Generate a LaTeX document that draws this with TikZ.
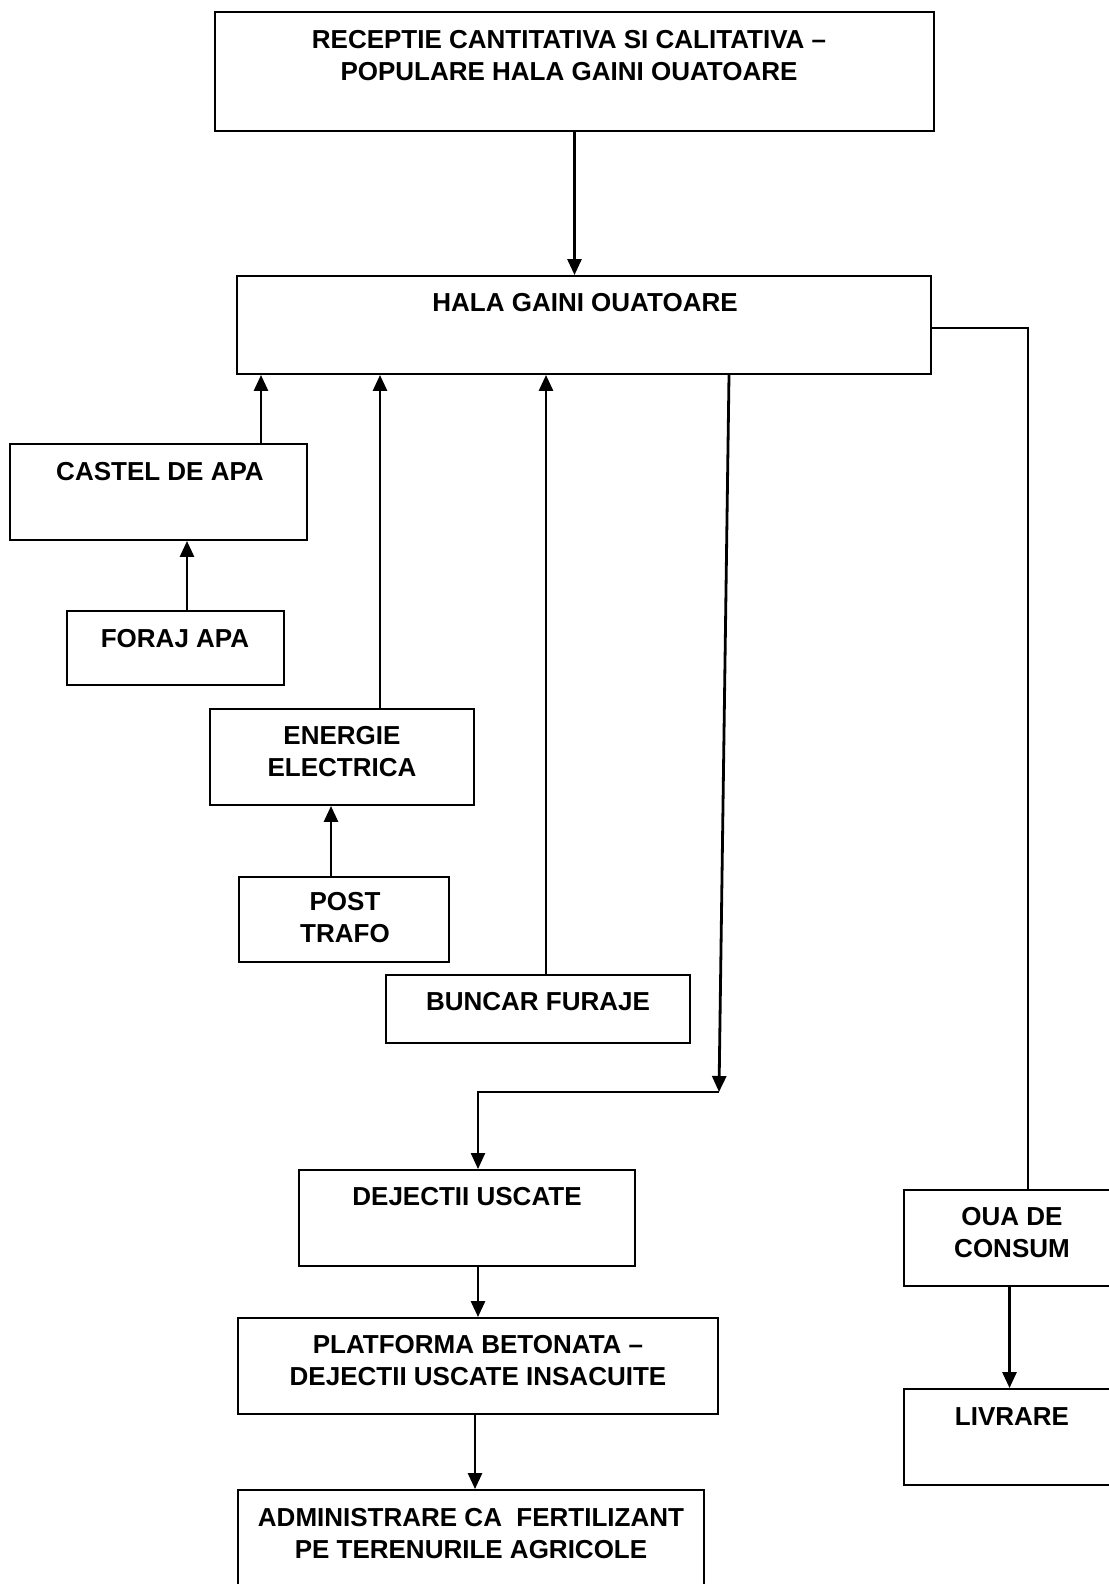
\documentclass[tikz,border=0pt]{standalone}
\usepackage{fontspec}
\setmainfont{Liberation Sans}
\usetikzlibrary{arrows.meta}
\begin{document}
\begin{tikzpicture}[x=1pt,y=-1pt,
  box/.style={draw, line width=1.9pt, inner sep=0pt},
  lbl/.style={font=\fontsize{26}{32}\selectfont\bfseries, align=center, inner sep=0pt},
  conn/.style={line width=2.2pt},
  arr/.style={line width=2.8pt, -{Triangle[length=16pt,width=14pt]}}]
\useasboundingbox (0,0) rectangle (1108,1584);
% boxes
\node[box, minimum width=719pt, minimum height=119pt] (rec) at (574.5,71.5) {};
\node[box, minimum width=694pt, minimum height=98pt] (hala) at (584,325) {};
\node[box, minimum width=297pt, minimum height=96pt] (castel) at (158.5,492) {};
\node[box, minimum width=217pt, minimum height=74pt] (foraj) at (175.5,648) {};
\node[box, minimum width=264pt, minimum height=96pt] (energ) at (342,757) {};
\node[box, minimum width=210pt, minimum height=85pt] (post) at (344,919.5) {};
\node[box, minimum width=304pt, minimum height=68pt] (bunc) at (538,1009) {};
\node[box, minimum width=336pt, minimum height=96pt] (dej) at (467,1218) {};
\node[box, minimum width=480pt, minimum height=96pt] (plat) at (478,1366) {};
\node[box, minimum width=466pt, minimum height=110pt] (adm) at (471,1545) {};
\node[box, minimum width=211pt, minimum height=96pt] (oua) at (1009.5,1238) {};
\node[box, minimum width=211pt, minimum height=96pt] (livr) at (1009.5,1437) {};
% labels
\node[lbl] (recT) at (569,56) {RECEPTIE CANTITATIVA SI CALITATIVA --\\POPULARE HALA GAINI OUATOARE};
\node[lbl] (halaT) at (585,303) {HALA GAINI OUATOARE};
\node[lbl] (castelT) at (160,472) {CASTEL DE APA};
\node[lbl] (forajT) at (175,639) {FORAJ APA};
\node[lbl] (energT) at (342,751.5) {ENERGIE\\ELECTRICA};
\node[lbl] (postT) at (345,918) {POST\\TRAFO};
\node[lbl] (buncT) at (538,1002) {BUNCAR FURAJE};
\node[lbl] (dejT) at (467,1197) {DEJECTII USCATE};
\node[lbl] (platT) at (478,1360.5) {PLATFORMA BETONATA --\\DEJECTII USCATE INSACUITE};
\node[lbl] (admT) at (471,1534) {ADMINISTRARE CA\ \ FERTILIZANT\\PE TERENURILE AGRICOLE};
\node[lbl] (ouaT) at (1012,1233) {OUA DE\\CONSUM};
\node[lbl] (livrT) at (1012,1417) {LIVRARE};
% connectors
\draw[arr] (rec.south) -- (rec.south |- hala.north);
\coordinate (c1) at ([xshift=102.5pt]castel.north);
\draw[arr] (c1) -- (c1 |- hala.south);
\coordinate (c2) at ([xshift=11.5pt]foraj.north);
\draw[arr] (c2) -- (c2 |- castel.south);
\coordinate (c3) at ([xshift=38pt]energ.north);
\draw[arr] (c3) -- (c3 |- hala.south);
\coordinate (c4) at ([xshift=-13pt]post.north);
\draw[arr] (c4) -- (c4 |- energ.south);
\coordinate (c5) at ([xshift=8pt]bunc.north);
\draw[arr] (c5) -- (c5 |- hala.south);
\coordinate (d0) at ([xshift=145pt]hala.south);
\coordinate (d1) at (719,1092);
\draw[arr] (d0) -- (d1);
\coordinate (d2) at ([xshift=11pt]dej.north);
\draw[conn, -{Triangle[length=16pt,width=14pt]}] (d1) -| (d2);
\coordinate (d3) at ([xshift=11pt]dej.south);
\draw[arr] (d3) -- (d3 |- plat.north);
\coordinate (d4) at ([xshift=-3pt]plat.south);
\draw[arr] (d4) -- (d4 |- adm.north);
\coordinate (o1) at ([xshift=18.5pt]oua.north);
\draw[conn] ([yshift=-3pt]hala.east) -| (o1);
\draw[arr] (oua.south) -- (livr.north);
\end{tikzpicture}
\end{document}
